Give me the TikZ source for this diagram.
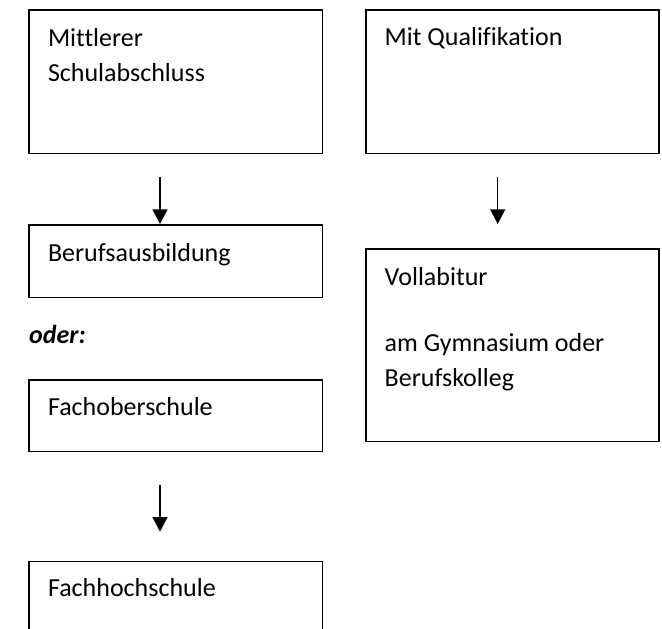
\documentclass[tikz,border=0pt]{standalone}
\usepackage{fontspec}
\setmainfont{Carlito}[Ligatures=NoCommon]
\usetikzlibrary{arrows.meta,positioning}

\begin{document}
\begin{tikzpicture}[x=1pt,y=1pt,
        box/.style={draw=black, line width=1.5pt, minimum width=293.4pt, anchor=north west, inner sep=0pt},
        lbl/.style={anchor=base west, inner sep=0pt, align=left, font=\fontsize{26pt}{35pt}\selectfont},
        arr/.style={-{Triangle[width=15pt,length=14.7pt]}, line width=1.5pt}]
        \useasboundingbox (0,0) rectangle (662,-629);
        \clip (0,0) rectangle (662,-629);
        % left column
        \node (mittel) at (28.3,-9.3) [box, minimum height=143.4pt] {};
        \node (beruf) at (28.3,-224.3) [box, minimum height=72.4pt] {};
        \node (fos) at (28.3,-379) [box, minimum height=71.7pt] {};
        \node (fh) at (28.3,-560.7) [box, minimum height=80pt] {};
        % right column
        \node (quali) at (365,-9.3) [box, minimum height=143.4pt] {};
        \node (vollab) at (365,-248.3) [box, minimum height=192.2pt] {};
        % texts (base = last line)
        \node (tmittel) at ([shift={(19.5,-72.2)}]mittel.north west) [lbl] {Mittlerer\\Schulabschluss};
        \node (tberuf) at ([shift={(19.5,-37.2)}]beruf.north west) [lbl] {Berufsausbildung};
        \node (tfos) at ([shift={(19.5,-36.2)}]fos.north west) [lbl] {Fachoberschule};
        \node (tfh) at ([shift={(19.5,-36.2)}]fh.north west) [lbl] {Fachhochschule};
        \node (tquali) at ([shift={(19.5,-36.2)}]quali.north west) [lbl] {Mit Qualifikation};
        \node (tvollab) at ([shift={(19.5,-138.4)}]vollab.north west) [lbl] {Vollabitur\\[31.7pt]am Gymnasium oder\\Berufskolleg};
        \node (oder) at (29,-343.3) [lbl] {\textbf{\textit{oder:}}};
        % arrows
        \coordinate (a1) at (160,-176.7);
        \coordinate (b1) at (160,-224);
        \coordinate (a2) at (497.7,-176.7);
        \coordinate (b2) at (497.7,-224);
        \coordinate (a3) at (160,-485);
        \coordinate (b3) at (160,-531.7);
        \draw[arr] (a1) -- (b1);
        \draw[arr] (a2) -- (b2);
        \draw[arr] (a3) -- (b3);
    \end{tikzpicture}
\end{document}
